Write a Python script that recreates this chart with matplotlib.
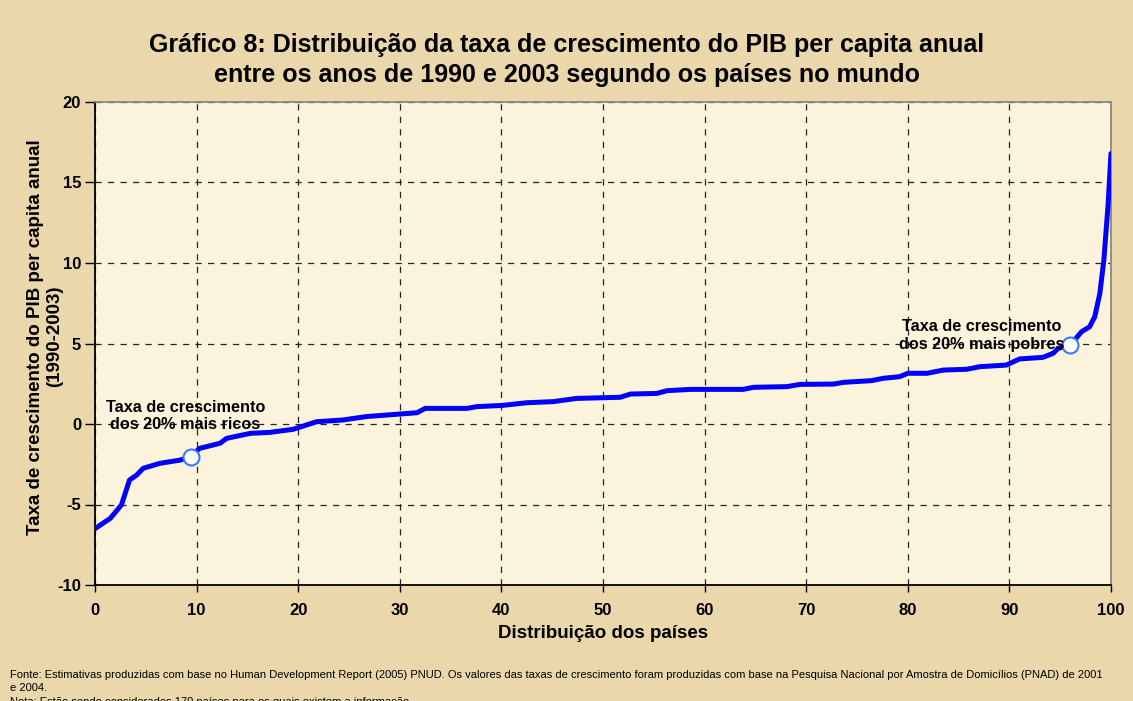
import matplotlib
matplotlib.use("Agg")
import matplotlib.pyplot as plt
from matplotlib.ticker import MultipleLocator

# Data
x_pct = [0, 1.5, 2.6, 3.4, 4.1, 4.75, 6.4, 8.4, 9.4, 10.3, 12.3, 12.96, 15.3, 17.2,
         19.5, 21.8, 24.4, 26.7, 30.0, 31.7, 32.5, 36.6, 37.6, 40.0, 42.5, 45.1,
         47.4, 51.7, 52.7, 55.3, 56.3, 58.6, 63.8, 64.8, 68.1, 69.4, 72.7, 73.7,
         76.4, 77.6, 79.2, 80.0, 81.9, 83.5, 85.8, 87.1, 89.7, 91.0, 93.3, 94.3,
         94.8, 96.0, 97.1, 97.9, 98.4, 98.9, 99.3, 99.7, 100]
growth = [-6.5, -5.86, -5.03, -3.48, -3.17, -2.75, -2.44, -2.24, -2.03, -1.51, -1.2,
          -0.89, -0.58, -0.52, -0.33, 0.14, 0.25, 0.46, 0.62, 0.7, 0.97, 0.97, 1.08,
          1.15, 1.32, 1.39, 1.59, 1.66, 1.86, 1.9, 2.07, 2.15, 2.15, 2.28, 2.32, 2.46,
          2.48, 2.59, 2.69, 2.84, 2.94, 3.15, 3.15, 3.35, 3.4, 3.56, 3.66, 4.04, 4.14,
          4.39, 4.7, 4.9, 5.73, 6.04, 6.66, 8.1, 10.2, 13.5, 16.8]
marker_x = [9.4, 96.0]
marker_y = [-2.03, 4.9]
marker_labels = ["Taxa de crescimento\ndos 20% mais ricos",
                 "Taxa de crescimento\ndos 20% mais pobres"]

title = ("Gráfico 8: Distribuição da taxa de crescimento do PIB per capita anual\n"
         "entre os anos de 1990 e 2003 segundo os países no mundo")
xlabel = "Distribuição dos países"
ylabel = "Taxa de crescimento do PIB per capita anual\n(1990-2003)"
note1 = ("Fonte: Estimativas produzidas com base no Human Development Report (2005) PNUD. "
         "Os valores das taxas de crescimento foram produzidas com base na Pesquisa Nacional "
         "por Amostra de Domicílios (PNAD) de 2001\ne 2004.")
note2 = "Nota: Estão sendo considerados 170 países para os quais existem a informação."

plt.rcParams['font.family'] = ['Liberation Sans', 'DejaVu Sans']
plt.rcParams['axes.unicode_minus'] = False

fig = plt.figure(figsize=(11.33, 7.01), dpi=100)
fig.patch.set_facecolor('#ead7ab')
ax = fig.add_axes([95/1133, 1-585/701, (1111-95)/1133, (585-102)/701])
ax.set_facecolor('#fcf3dc')

ax.plot(x_pct, growth, color='#0000ff', lw=3.6, solid_capstyle='round',
        solid_joinstyle='round', zorder=3)
ax.plot(marker_x, marker_y, 'o', ms=11.5, mfc='white', mec='#3a78ff', mew=1.5, zorder=4)

ax.text(8.9, 0.5, marker_labels[0], ha='center', va='center', fontsize=11.7,
        fontweight='bold', linespacing=1.2, zorder=5)
ax.text(87.3, 5.5, marker_labels[1], ha='center', va='center', fontsize=11.7,
        fontweight='bold', linespacing=1.2, zorder=5)

ax.set_xlim(0, 100)
ax.set_ylim(-10, 20)
ax.xaxis.set_major_locator(MultipleLocator(10))
ax.yaxis.set_major_locator(MultipleLocator(5))
ax.grid(True, color='black', linestyle=(0, (5, 5)), lw=0.9, alpha=0.85)
ax.set_axisbelow(True)
ax.tick_params(axis='both', direction='out', width=1, labelsize=12)
ax.tick_params(axis='x', length=5, pad=8)
ax.tick_params(axis='y', length=7, pad=3)
for lab in ax.get_xticklabels() + ax.get_yticklabels():
    lab.set_fontweight('bold')
for s in ['left', 'bottom']:
    ax.spines[s].set_color('black')
    ax.spines[s].set_linewidth(1.3)
for s in ['top', 'right']:
    ax.spines[s].set_color('#888888')
    ax.spines[s].set_linewidth(1.3)

ax.set_xlabel(xlabel, fontsize=13.5, fontweight='bold', labelpad=5)
ax.set_ylabel(ylabel, fontsize=13.5, fontweight='bold', linespacing=1.15)
ax.yaxis.set_label_coords(-0.0315, 0.514)

fig.text(0.5, 1-60/701, title, ha='center', va='center', fontsize=18,
         fontweight='bold', linespacing=1.3)

fig.text(10/1133, 1-693/701, note1, ha='left', va='bottom', fontsize=8,
         linespacing=1.35)
fig.text(10/1133, 1-707/701, note2, ha='left', va='bottom', fontsize=8)

fig.savefig('out.png', dpi=100, facecolor=fig.get_facecolor())
